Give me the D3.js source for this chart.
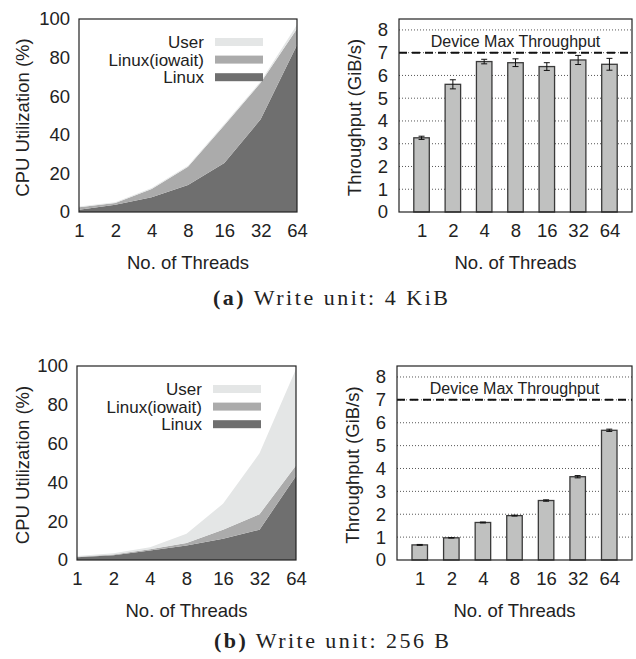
<!DOCTYPE html>
<html lang="en">
<head>
    <meta charset="UTF-8">
    <title>CPU utilization and throughput by thread count</title>
    <script src="https://d3js.org/d3.v7.min.js"></script>
    <style>
        body {
            margin: 0;
            background: #fff;
        }

        svg text {
            font-family: "Liberation Sans", Arial, sans-serif;
            fill: #222;
        }

        .caption {
            font-family: "Liberation Serif", "DejaVu Serif", serif !important;
        }
    </style>
</head>
<body>
    <div id="chart"></div>

    <script>
        // thread counts on the x axis
        const threads = ["1", "2", "4", "8", "16", "32", "64"];
        const cpuSeries = ["Linux", "Linux(iowait)", "User"];

        // (a) write unit 4 KiB, CPU utilization (%), stacked
        const cpuLinuxA = [1.2, 3.8, 7.6, 14.0, 25.4, 48.0, 86.5];
        const cpuIowaitA = [1.3, 0.9, 4.3, 9.4, 19.6, 19.0, 8.5];
        const cpuUserA = [0.4, 0.4, 0.6, 0.6, 0.6, 0.6, 2.0];

        // (a) throughput (GiB/s) and error
        const tputA = [3.26, 5.61, 6.61, 6.56, 6.39, 6.68, 6.49];
        const errA = [0.07, 0.2, 0.1, 0.17, 0.17, 0.2, 0.26];

        // (b) write unit 256 B
        const cpuLinuxB = [1.4, 2.4, 4.9, 7.5, 10.9, 15.6, 43.3];
        const cpuIowaitB = [0.3, 0.4, 0.6, 1.2, 4.7, 8.0, 5.4];
        const cpuUserB = [0.3, 0.7, 1.1, 4.8, 13.4, 31.4, 49.7];

        const tputB = [0.66, 0.97, 1.64, 1.94, 2.60, 3.64, 5.67];
        const errB = [0.02, 0.01, 0.02, 0.02, 0.03, 0.05, 0.05];

        const deviceMax = 7;
        const cpuTicks = [0, 20, 40, 60, 80, 100];
        const tputTicks = [0, 1, 2, 3, 4, 5, 6, 7, 8];
        const captions = ["Write unit: 4 KiB", "Write unit: 256 B"];

        const colors = { "Linux": "#6f6f6f", "Linux(iowait)": "#ababab", "User": "#e4e6e6" };

        const svg = d3.select("#chart").append("svg")
            .attr("width", 636)
            .attr("height", 659);

        function yTitle(g, text, x, yMid) {
            g.append("text")
                .attr("transform", `translate(${x},${yMid}) rotate(-90)`)
                .attr("text-anchor", "middle")
                .attr("dy", "0.35em")
                .style("font-size", "18.5px")
                .text(text);
        }

        function drawCpu(frame, linux, iowait, user) {
            const g = svg.append("g");
            const x = d3.scalePoint().domain(threads).range([frame.left, frame.right]);
            const y = d3.scaleLinear().domain([0, 100]).range([frame.bottom, frame.top]);

            const rows = threads.map((t, i) => ({
                t: t, "Linux": linux[i], "Linux(iowait)": iowait[i], "User": user[i]
            }));
            const stack = d3.stack().keys(cpuSeries)(rows);

            const area = d3.area()
                .x(d => x(d.data.t))
                .y0(d => y(d[0]))
                .y1(d => y(d[1]));

            g.selectAll(".layer")
                .data(stack)
                .enter().append("path")
                .attr("class", "layer")
                .attr("d", area)
                .attr("fill", d => colors[d.key]);

            // frame
            g.append("rect")
                .attr("x", frame.left).attr("y", frame.top)
                .attr("width", frame.right - frame.left)
                .attr("height", frame.bottom - frame.top)
                .attr("fill", "none")
                .attr("stroke", "#222")
                .attr("stroke-width", 1.2);

            const yAxis = g.append("g")
                .attr("transform", `translate(${frame.left},0)`)
                .call(d3.axisLeft(y).tickValues(cpuTicks).tickSize(0).tickPadding(9));
            yAxis.select(".domain").remove();
            yAxis.selectAll("text").style("font-size", "18.5px").attr("font-family", null);

            const xAxis = g.append("g")
                .attr("transform", `translate(0,${frame.bottom})`)
                .call(d3.axisBottom(x).tickSize(0).tickPadding(12));
            xAxis.select(".domain").remove();
            xAxis.selectAll("text").style("font-size", "18.5px").attr("font-family", null);

            g.append("text")
                .attr("x", (frame.left + frame.right) / 2)
                .attr("y", frame.bottom + 57)
                .attr("text-anchor", "middle")
                .style("font-size", "18.5px")
                .text("No. of Threads");

            yTitle(g, "CPU Utilization (%)", 22.5, (frame.top + frame.bottom) / 2 + 2);

            // legend, top to bottom: User, Linux(iowait), Linux
            const legendKeys = cpuSeries.slice().reverse();
            const lg = g.selectAll(".legend")
                .data(legendKeys)
                .enter().append("g")
                .attr("class", "legend")
                .attr("transform", (d, i) => `translate(${frame.left},${frame.top + 23 + i * 17.6})`);

            lg.append("text")
                .attr("x", 125)
                .attr("dy", "0.35em")
                .attr("text-anchor", "end")
                .style("font-size", "17px")
                .text(d => d);

            lg.append("rect")
                .attr("x", 136)
                .attr("y", -4)
                .attr("width", 48)
                .attr("height", 8)
                .attr("fill", d => colors[d]);
        }

        function drawTput(frame, values, errs) {
            const g = svg.append("g");
            const x = d3.scalePoint().domain(threads).range([frame.left, frame.right]).padding(0.72);
            const y = d3.scaleLinear().domain([0, 8.48]).range([frame.bottom, frame.top]);
            const barW = 15.5;

            // dotted grid
            g.selectAll(".grid")
                .data(tputTicks.slice(1))
                .enter().append("line")
                .attr("class", "grid")
                .attr("x1", frame.left).attr("x2", frame.right)
                .attr("y1", d => y(d)).attr("y2", d => y(d))
                .attr("stroke", "#444")
                .attr("stroke-width", 0.9)
                .attr("stroke-dasharray", "1,2");

            // device max line
            g.append("line")
                .attr("x1", frame.left).attr("x2", frame.right)
                .attr("y1", y(deviceMax)).attr("y2", y(deviceMax))
                .attr("stroke", "#111")
                .attr("stroke-width", 2)
                .attr("stroke-dasharray", "8,5");

            g.append("text")
                .attr("x", (frame.left + frame.right) / 2)
                .attr("y", y(7.5))
                .attr("dy", "0.35em")
                .attr("text-anchor", "middle")
                .style("font-size", "16px")
                .text("Device Max Throughput");

            g.selectAll(".bar")
                .data(values)
                .enter().append("rect")
                .attr("class", "bar")
                .attr("x", (d, i) => x(threads[i]) - barW / 2)
                .attr("y", d => y(d))
                .attr("width", barW)
                .attr("height", d => y(0) - y(d))
                .attr("fill", "#c0c1c0")
                .attr("stroke", "#3a3a3a")
                .attr("stroke-width", 1.3);

            // error bars
            const eb = g.selectAll(".err")
                .data(values)
                .enter().append("g")
                .attr("class", "err")
                .attr("stroke", "#111")
                .attr("stroke-width", 1);
            eb.append("line")
                .attr("x1", (d, i) => x(threads[i])).attr("x2", (d, i) => x(threads[i]))
                .attr("y1", (d, i) => y(d - errs[i])).attr("y2", (d, i) => y(d + errs[i]));
            eb.append("line")
                .attr("x1", (d, i) => x(threads[i]) - 3).attr("x2", (d, i) => x(threads[i]) + 3)
                .attr("y1", (d, i) => y(d - errs[i])).attr("y2", (d, i) => y(d - errs[i]));
            eb.append("line")
                .attr("x1", (d, i) => x(threads[i]) - 3).attr("x2", (d, i) => x(threads[i]) + 3)
                .attr("y1", (d, i) => y(d + errs[i])).attr("y2", (d, i) => y(d + errs[i]));

            g.append("rect")
                .attr("x", frame.left).attr("y", frame.top)
                .attr("width", frame.right - frame.left)
                .attr("height", frame.bottom - frame.top)
                .attr("fill", "none")
                .attr("stroke", "#222")
                .attr("stroke-width", 1.2);

            const yAxis = g.append("g")
                .attr("transform", `translate(${frame.left},0)`)
                .call(d3.axisLeft(y).tickValues(tputTicks).tickSize(0).tickPadding(11));
            yAxis.select(".domain").remove();
            yAxis.selectAll("text").style("font-size", "18.5px").attr("font-family", null);

            const xAxis = g.append("g")
                .attr("transform", `translate(0,${frame.bottom})`)
                .call(d3.axisBottom(x).tickSize(0).tickPadding(12));
            xAxis.select(".domain").remove();
            xAxis.selectAll("text").style("font-size", "18.5px").attr("font-family", null);

            g.append("text")
                .attr("x", (frame.left + frame.right) / 2)
                .attr("y", frame.bottom + 57)
                .attr("text-anchor", "middle")
                .style("font-size", "18.5px")
                .text("No. of Threads");

            yTitle(g, "Throughput (GiB/s)", frame.left - 44, (frame.top + frame.bottom) / 2 + 2);
        }

        function caption(label, text, cx, baseline) {
            const t = svg.append("text")
                .attr("class", "caption")
                .attr("x", cx)
                .attr("y", baseline)
                .attr("text-anchor", "middle")
                .attr("textLength", 235)
                .attr("lengthAdjust", "spacing")
                .style("font-size", "22px");
            t.append("tspan").style("font-weight", "bold").text(`(${label})`);
            t.append("tspan").text(" " + text);
        }

        drawCpu({ left: 79, right: 297, top: 19, bottom: 212 }, cpuLinuxA, cpuIowaitA, cpuUserA);
        drawTput({ left: 399, right: 632, top: 19, bottom: 212 }, tputA, errA);
        drawCpu({ left: 77, right: 296, top: 366, bottom: 560 }, cpuLinuxB, cpuIowaitB, cpuUserB);
        drawTput({ left: 397, right: 632, top: 366, bottom: 560 }, tputB, errB);

        caption("a", captions[0], 330.5, 305);
        caption("b", captions[1], 331.5, 648);
    </script>
</body>
</html>
